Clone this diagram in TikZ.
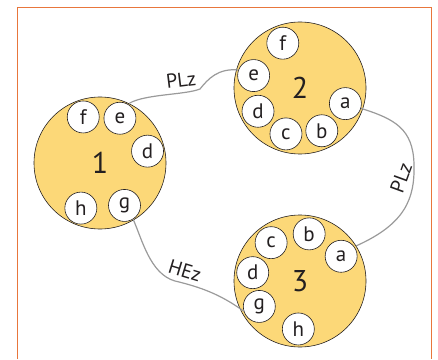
\documentclass[tikz,border=0pt]{standalone}
\usepackage{fontspec}
\setmainfont{PT Sans}
\usepackage{tikz}
\usepackage{xcolor}
\definecolor{hub}{RGB}{252,216,120}
\definecolor{wirec}{RGB}{154,154,154}
\definecolor{framec}{RGB}{232,118,60}
\definecolor{ink}{RGB}{35,31,32}

\begin{document}
\begin{tikzpicture}[x=1pt,y=1pt,
        hub/.style={circle,draw=ink,fill=hub,line width=0.6pt,minimum size=132pt,inner sep=0pt,font=\fontsize{30}{32}\selectfont,text=ink},
        port/.style={circle,draw=ink,fill=white,line width=0.6pt,minimum size=32pt,inner sep=0pt,font=\fontsize{21}{22}\selectfont,text=ink},
        wire/.style={wirec,line width=1.2pt},
        tag/.style={font=\fontsize{20}{22}\selectfont,text=ink}]
        \useasboundingbox (0,0) rectangle (438,359);
        \draw[framec,line width=1pt] (17.3,0) |- (431.7,351.5) -- (431.7,0);
        % the three hubs
        \node[hub] (n1) at (100,196) {1};
        \node[hub] (n2) at (300,271) {2};
        \node[hub] (n3) at (300,78) {3};
        \foreach \l/\a in {f/110,e/66,d/14,h/247,g/300}
            \node[port] (n1\l) at ([shift={(\a:49)}]n1.center) {\l};
        \foreach \l/\a in {f/111,e/165,d/209,c/253,b/297,a/341}
            \node[port] (n2\l) at ([shift={(\a:48)}]n2.center) {\l};
        \foreach \l/\a in {a/31,b/79,c/127,d/170,g/212,h/268}
            \node[port] (n3\l) at ([shift={(\a:48)}]n3.center) {\l};
        % links
        \draw[wire] (n1.64) .. controls (145,265) and (185,264) .. (200,270) .. controls (208,280) and (218,291) .. (n2e.160);
        \draw[wire] (n2a.-17) .. controls (395,240) and (413,230) .. (414,195) .. controls (415,160) and (405,135) .. (n3.32);
        \draw[wire] (n1g.-58) .. controls (142,120) and (150,85) .. (175,78) .. controls (200,72) and (220,65) .. (n3g.197);
        \node[tag,rotate=7] (t12) at (181,279) {PLz};
        \node[tag,rotate=70] (t23) at (401,181) {PLz};
        \node[tag,rotate=-17] (t13) at (185,88) {HEz};
    \end{tikzpicture}
\end{document}
